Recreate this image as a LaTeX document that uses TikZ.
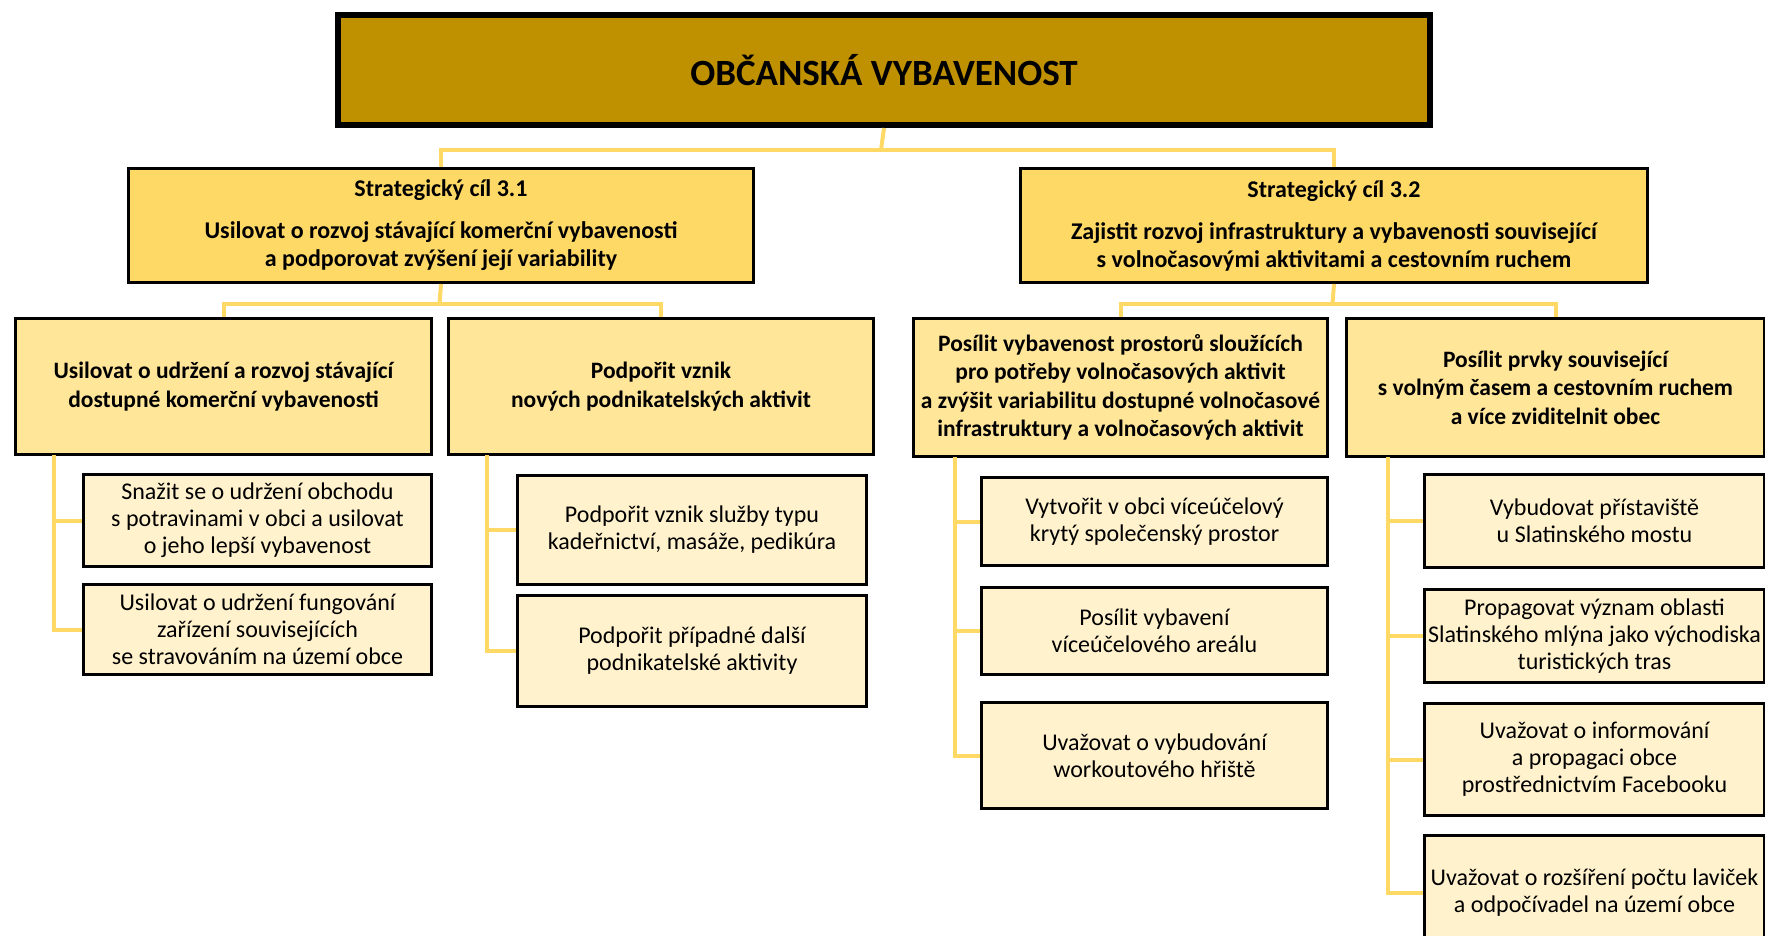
\documentclass[tikz,border=0pt]{standalone}
\usepackage{fontspec}
\setmainfont{Carlito}
\definecolor{cTop}{HTML}{BF9000}
\definecolor{cStrat}{HTML}{FFD966}
\definecolor{cL2}{HTML}{FFE699}
\definecolor{cL3}{HTML}{FFF2CC}
\definecolor{cLine}{HTML}{FFD966}
\newcommand\boxat[6]{\node[#1, anchor=north west, minimum width={#4-#2}, minimum height={#5-#3}] (#6) at (#2,#3)}
\begin{document}
\begin{tikzpicture}[x=1pt,y=-1pt,
  conn/.style={draw=cLine, line width=4pt},
  topbox/.style={fill=cTop, draw=black, line width=6pt, inner sep=0pt, align=center, font=\bfseries\fontsize{37}{44}\selectfont},
  stratbox/.style={fill=cStrat, draw=black, line width=3pt, inner sep=0pt, align=center, font=\bfseries\fontsize{24}{28}\selectfont},
  lvltwo/.style={fill=cL2, draw=black, line width=3pt, inner sep=0pt, align=center, font=\bfseries\fontsize{23.5}{28.5}\selectfont},
  lvlthree/.style={fill=cL3, draw=black, line width=3pt, inner sep=0pt, align=center, font=\fontsize{24}{27}\selectfont}]
\useasboundingbox (0,0) rectangle (1765,936);
\clip (0,0) rectangle (1765,936);
\fill[white] (0,0) rectangle (1765,936);

% top
\boxat{topbox}{335}{12}{1427}{122}{top} {OBČANSKÁ VYBAVENOST};

% strategic
\boxat{stratbox}{127}{167}{752}{281}{s1} {Strategický cíl 3.1\\[14pt]Usilovat o rozvoj stávající komerční vybavenosti\\a podporovat zvýšení její variability};
\boxat{stratbox}{1019}{167}{1646}{281}{s2} {Strategický cíl 3.2\\[14pt]Zajistit rozvoj infrastruktury a vybavenosti související\\s volnočasovými aktivitami a cestovním ruchem};

% level 2
\boxat{lvltwo}{14}{317}{430}{453}{a1} {Usilovat o udržení a rozvoj stávající\\dostupné komerční vybavenosti};
\boxat{lvltwo}{447}{317}{872}{453}{a2} {Podpořit vznik\\nových podnikatelských aktivit};
\boxat{lvltwo}{912}{317}{1326}{455}{b1} {Posílit vybavenost prostorů sloužících\\pro potřeby volnočasových aktivit\\a zvýšit variabilitu dostupné volnočasové\\infrastruktury a volnočasových aktivit};
\boxat{lvltwo}{1345}{317}{1763}{455}{b2} {Posílit prvky související\\s volným časem a cestovním ruchem\\a více zviditelnit obec};

% level 3 under a1
\boxat{lvlthree}{82}{473}{430}{565}{a11} {Snažit se o udržení obchodu\\s potravinami v obci a usilovat\\o jeho lepší vybavenost};
\boxat{lvlthree}{82}{583}{430}{673}{a12} {Usilovat o udržení fungování\\zařízení souvisejících\\se stravováním na území obce};
% under a2
\boxat{lvlthree}{516}{474}{865}{583}{a21} {Podpořit vznik služby typu\\kadeřnictví, masáže, pedikúra};
\boxat{lvlthree}{516}{594}{865}{705}{a22} {Podpořit případné další\\podnikatelské aktivity};
% under b1
\boxat{lvlthree}{980}{476}{1326}{564}{b11} {Vytvořit v obci víceúčelový\\krytý společenský prostor};
\boxat{lvlthree}{980}{586}{1326}{673}{b12} {Posílit vybavení\\víceúčelového areálu};
\boxat{lvlthree}{980}{701}{1326}{807}{b13} {Uvažovat o vybudování\\workoutového hřiště};
% under b2
\boxat{lvlthree}{1423}{473}{1763}{566}{b21} {Vybudovat přístaviště\\u Slatinského mostu};
\boxat{lvlthree}{1423}{588}{1763}{681}{b22} {Propagovat význam oblasti\\Slatinského mlýna jako východiska\\turistických tras};
\boxat{lvlthree}{1423}{702}{1763}{814}{b23} {Uvažovat o informování\\a propagaci obce\\prostřednictvím Facebooku};
\boxat{lvlthree}{1423}{834}{1763}{948}{b24} {Uvažovat o rozšíření počtu laviček\\a odpočívadel na území obce};

% connectors
\coordinate (ja) at (881,150);
\draw[conn] (top.south) -- (ja);
\draw[conn] (ja) -| (s1.north);
\draw[conn] (ja) -| (s2.north);
\coordinate (j1) at (439.5,304);
\draw[conn] (s1.south) -- (j1);
\draw[conn] (j1) -| (a1.north);
\draw[conn] (j1) -| (a2.north);
\coordinate (j2) at (1332.5,304);
\draw[conn] (s2.south) -- (j2);
\draw[conn] (j2) -| (b1.north);
\draw[conn] (j2) -| (b2.north);

\coordinate (ra) at (54,455);
\draw[conn] (ra) |- (a11.west);
\draw[conn] (ra) |- (a12.west);
\coordinate (rb) at (487,455);
\draw[conn] (rb) |- (a21.west);
\draw[conn] (rb) |- (a22.west);
\coordinate (rc) at (955,457);
\draw[conn] (rc) |- (b11.west);
\draw[conn] (rc) |- (b12.west);
\draw[conn] (rc) |- (b13.west);
\coordinate (rd) at (1388,457);
\draw[conn] (rd) |- (b21.west);
\draw[conn] (rd) |- (b22.west);
\draw[conn] (rd) |- (b23.west);
\draw[conn] (rd) |- (b24.west);
\end{tikzpicture}
\end{document}
